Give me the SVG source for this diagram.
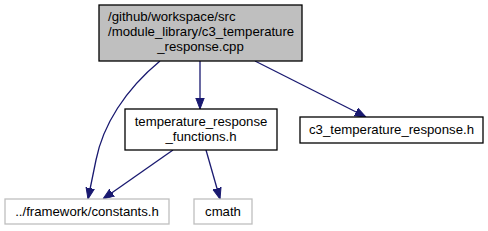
<svg xmlns="http://www.w3.org/2000/svg" width="488" height="231" viewBox="0 0 488 231">
<defs>
<style>
text{font-family:"Liberation Sans",Arial,sans-serif;font-size:13.2px;fill:#000}
.n rect{fill:#fff;stroke:#000;stroke-width:1.3}
.n.g rect{fill:#bfbfbf}
.n.l rect{stroke:#bfbfbf}
.e path{fill:none;stroke:#191970;stroke-width:1.3}
</style>
<marker id="a" viewBox="0 0 11 10" refX="11" refY="5" markerWidth="11" markerHeight="10" markerUnits="userSpaceOnUse" orient="auto">
<path d="M0,0.8 L11,5 L0,9.2 Z" fill="#191970" stroke="#191970"/>
</marker>
</defs>
<rect width="488" height="231" fill="#fff"/>
<g class="e">
<path d="M160,61 C125,90 103,125 96,160 L88,199" marker-end="url(#a)"/>
<path d="M200,61 L200,109" marker-end="url(#a)"/>
<path d="M255,61 L366,117" marker-end="url(#a)"/>
<path d="M173,150 L103,199" marker-end="url(#a)"/>
<path d="M206,150 L220,199" marker-end="url(#a)"/>
</g>
<g id="node1" class="n g">
<rect x="99" y="5" width="203" height="56"/>
<text x="108" y="21">/github/workspace/src</text>
<text x="108" y="36">/module_library/c3_temperature</text>
<text x="200.5" y="51" text-anchor="middle">_response.cpp</text>
</g>
<g id="node2" class="n">
<rect x="125" y="109" width="152" height="41"/>
<text x="201" y="126" text-anchor="middle">temperature_response</text>
<text x="201" y="141" text-anchor="middle">_functions.h</text>
</g>
<g id="node3" class="n">
<rect x="300" y="117" width="183" height="26"/>
<text x="391.5" y="134" text-anchor="middle">c3_temperature_response.h</text>
</g>
<g id="node4" class="n l">
<rect x="5" y="199" width="164" height="25"/>
<text x="87" y="216" text-anchor="middle">../framework/constants.h</text>
</g>
<g id="node5" class="n l">
<rect x="194" y="199" width="58" height="25"/>
<text x="223" y="216" text-anchor="middle">cmath</text>
</g>
</svg>
